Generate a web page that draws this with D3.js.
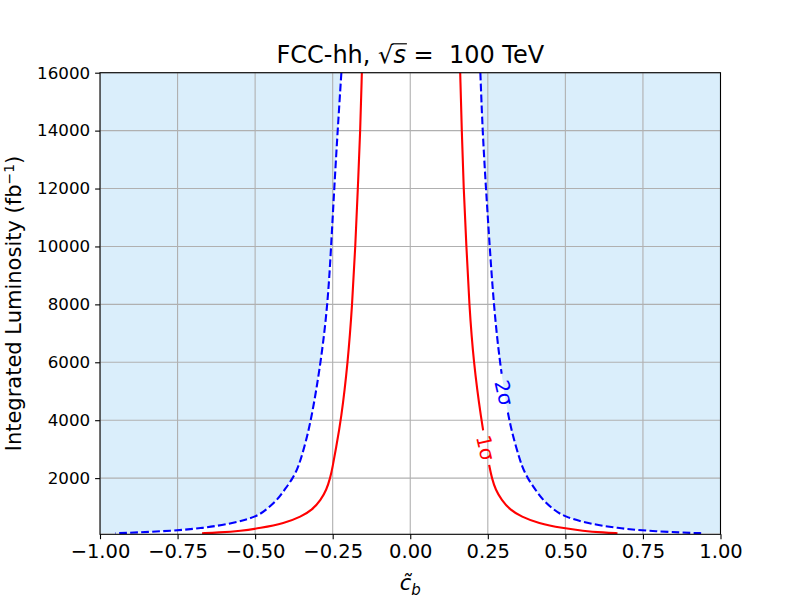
<!DOCTYPE html>
<html>
<head>
<meta charset="utf-8">
<script src="https://cdn.jsdelivr.net/npm/d3@7"></script>
<style>
body { margin: 0; background: #fff; }
svg { display: block; font-family: "DejaVu Sans", sans-serif; }
</style>
</head>
<body>
<svg id="chart"></svg>
<script>
const lumi = [16000, 14000, 12000, 10000, 8000, 6000, 4000, 3000, 2400, 2000, 1600, 1250, 900, 670, 440, 270, 180, 120, 95];

// c_b position of each contour at those luminosities
const oneSigmaLeft  = [-0.156, -0.161, -0.169, -0.177, -0.187, -0.201, -0.223, -0.240, -0.250, -0.258, -0.270, -0.288, -0.316, -0.352, -0.405, -0.485, -0.545, -0.620, -0.671];
const oneSigmaRight = [0.161, 0.166, 0.172, 0.181, 0.190, 0.204, 0.229, 0.245, 0.255, 0.263, 0.275, 0.294, 0.322, 0.358, 0.412, 0.492, 0.555, 0.625, 0.668];
const twoSigmaLeft  = [-0.222, -0.234, -0.245, -0.255, -0.266, -0.288, -0.319, -0.343, -0.360, -0.378, -0.405, -0.428, -0.465, -0.495, -0.570, -0.670, -0.770, -0.885, -0.950];
const twoSigmaRight = [0.226, 0.233, 0.244, 0.256, 0.269, 0.288, 0.317, 0.343, 0.360, 0.378, 0.403, 0.427, 0.463, 0.497, 0.570, 0.668, 0.765, 0.875, 0.945];

const xTicks = [-1, -0.75, -0.5, -0.25, 0, 0.25, 0.5, 0.75, 1];
const yTicks = [2000, 4000, 6000, 8000, 10000, 12000, 14000, 16000];

// inline contour labels (sit on the right branches)
const labelText = ["1σ", "2σ"];
const labelC = [0.243, 0.302];
const labelL = [3050, 4950];

function drawChart() {
    const width = 800;
    const height = 600;
    const margin = {top: 72.7, right: 79.5, bottom: 65.7, left: 100};

    const svg = d3.select("#chart")
        .attr("width", width)
        .attr("height", height);

    const x = d3.scaleLinear()
        .domain([-1, 1])
        .range([margin.left, width - margin.right]);
    const y = d3.scaleLinear()
        .domain([60, 16000])
        .range([height - margin.bottom, margin.top]);

    const defs = svg.append("defs");
    defs.append("clipPath").attr("id", "plotClip")
        .append("rect")
        .attr("x", x(-1)).attr("y", y(16000))
        .attr("width", x(1) - x(-1)).attr("height", y(60) - y(16000));

    const pts = arr => arr.map((c, i) => [c, lumi[i]]);
    const curves = [
        {data: pts(oneSigmaLeft), color: "red", dash: null, label: -1},
        {data: pts(oneSigmaRight), color: "red", dash: null, label: 0},
        {data: pts(twoSigmaLeft), color: "blue", dash: "7.7,3.3", label: -1},
        {data: pts(twoSigmaRight), color: "blue", dash: "7.7,3.3", label: 1}
    ];

    const plot = svg.append("g").attr("clip-path", "url(#plotClip)");

    // excluded region outside the 2 sigma contour
    const fillLeft = d3.area()
        .y(d => y(d[1]))
        .x0(x(-1))
        .x1(d => x(d[0]))
        .curve(d3.curveBasis);
    const fillRight = d3.area()
        .y(d => y(d[1]))
        .x0(x(1))
        .x1(d => x(d[0]))
        .curve(d3.curveBasis);
    plot.append("path").attr("d", fillLeft(pts(twoSigmaLeft))).attr("fill", "#daeefb");
    plot.append("path").attr("d", fillRight(pts(twoSigmaRight))).attr("fill", "#daeefb");

    // grid
    plot.selectAll(".xgrid")
        .data(xTicks)
        .join("line")
        .attr("class", "xgrid")
        .attr("x1", d => x(d)).attr("x2", d => x(d))
        .attr("y1", y(60)).attr("y2", y(16000))
        .attr("stroke", "#b0b0b0").attr("stroke-width", 1.1);
    plot.selectAll(".ygrid")
        .data(yTicks)
        .join("line")
        .attr("class", "ygrid")
        .attr("x1", x(-1)).attr("x2", x(1))
        .attr("y1", d => y(d)).attr("y2", d => y(d))
        .attr("stroke", "#b0b0b0").attr("stroke-width", 1.1);

    // masks that cut the line under each label
    const gapLen = [35, 38];
    labelText.forEach((t, i) => {
        const m = defs.append("mask").attr("id", "gap" + i)
            .attr("maskUnits", "userSpaceOnUse")
            .attr("x", 0).attr("y", 0).attr("width", width).attr("height", height);
        m.append("rect").attr("width", width).attr("height", height).attr("fill", "white");
        m.append("rect")
            .attr("x", -gapLen[i] / 2).attr("y", -10)
            .attr("width", gapLen[i]).attr("height", 20)
            .attr("fill", "black")
            .attr("transform", `translate(${x(labelC[i])},${y(labelL[i])}) rotate(78)`);
    });

    const line = d3.line()
        .x(d => x(d[0]))
        .y(d => y(d[1]))
        .curve(d3.curveBasis);

    curves.forEach(c => {
        const p = plot.append("path")
            .attr("d", line(c.data))
            .attr("fill", "none")
            .attr("stroke", c.color)
            .attr("stroke-width", 2.1);
        if (c.dash) p.attr("stroke-dasharray", c.dash);
        if (c.label >= 0) p.attr("mask", `url(#gap${c.label})`);
    });

    // contour labels
    svg.selectAll(".clabel")
        .data(labelText)
        .join("text")
        .attr("class", "clabel")
        .attr("transform", (d, i) => `translate(${x(labelC[i])},${y(labelL[i])}) rotate(77)`)
        .attr("text-anchor", "middle")
        .attr("dominant-baseline", "central")
        .attr("font-size", 20)
        .attr("fill", (d, i) => i === 0 ? "red" : "blue")
        .text(d => d);

    // axes
    const xAxis = svg.append("g")
        .attr("transform", `translate(0,${y(60)})`)
        .call(d3.axisBottom(x).tickValues(xTicks).tickFormat(d3.format(".2f")).tickSize(4.9).tickPadding(4.9));
    xAxis.selectAll("text").attr("font-size", 19.5).attr("font-family", "DejaVu Sans").attr("fill", "#000");

    const yAxis = svg.append("g")
        .attr("transform", `translate(${x(-1)},0)`)
        .call(d3.axisLeft(y).tickValues(yTicks).tickFormat(d3.format("d")).tickSize(4.9).tickPadding(4.9));
    yAxis.selectAll("text").attr("font-size", 16.7).attr("font-family", "DejaVu Sans").attr("fill", "#000");

    svg.selectAll(".domain").remove();
    svg.selectAll(".tick line").attr("stroke", "#000").attr("stroke-width", 1.1);

    svg.append("rect")
        .attr("x", x(-1)).attr("y", y(16000))
        .attr("width", x(1) - x(-1)).attr("height", y(60) - y(16000))
        .attr("fill", "none").attr("stroke", "#000").attr("stroke-width", 1.1);

    // title with sqrt(s)
    const tSize = 24;
    const title = svg.append("text")
        .attr("x", (x(-1) + x(1)) / 2)
        .attr("y", 63)
        .attr("text-anchor", "middle")
        .attr("font-size", tSize)
        .style("white-space", "pre")
        .attr("fill", "#000");
    title.append("tspan").text("FCC-hh, ");
    title.append("tspan").text("√");
    title.append("tspan").attr("font-style", "italic").text("s");
    title.append("tspan").text(" =  100 TeV");
    const tn = title.node();
    const rad = tn.getExtentOfChar(8);
    const sExt = tn.getExtentOfChar(9);
    svg.append("line")
        .attr("x1", rad.x + rad.width - 1)
        .attr("x2", sExt.x + sExt.width + 1)
        .attr("y1", 63 - tSize * 0.8).attr("y2", 63 - tSize * 0.8)
        .attr("stroke", "#000").attr("stroke-width", 1.2);

    // axis labels
    const xl = svg.append("text")
        .attr("x", (x(-1) + x(1)) / 2)
        .attr("y", 590)
        .attr("text-anchor", "middle")
        .attr("font-size", 21)
        .attr("fill", "#000");
    xl.append("tspan").attr("font-style", "italic").text("c\u0303");
    xl.append("tspan").attr("font-style", "italic").attr("font-size", 15).attr("dy", 5).text("b");

    const yl = svg.append("text")
        .attr("transform", `translate(21,${(y(60) + y(16000)) / 2}) rotate(-90)`)
        .attr("text-anchor", "middle")
        .attr("font-size", 21)
        .attr("fill", "#000");
    yl.append("tspan").text("Integrated Luminosity (fb");
    yl.append("tspan").attr("font-size", 14).attr("dy", -7).text("\u22121");
    yl.append("tspan").attr("dy", 7).text(")");
}

drawChart();
</script>
</body>
</html>
